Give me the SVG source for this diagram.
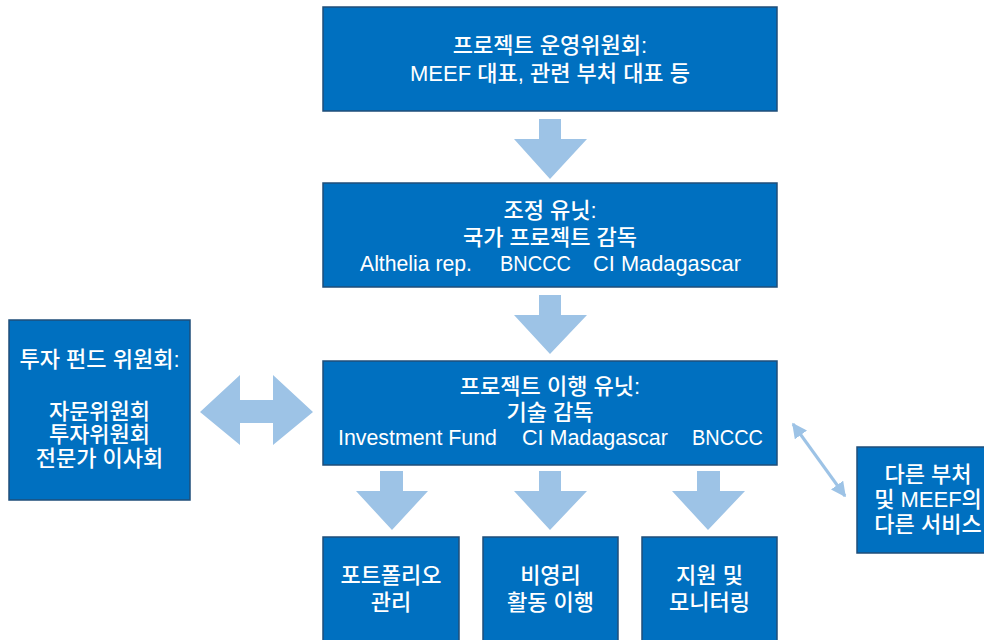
<svg xmlns="http://www.w3.org/2000/svg" width="984" height="640" viewBox="0 0 984 640">
<style>
.box{fill:#0070C0;stroke:#1F4E79;stroke-width:1.5}
.t{fill:#fff;font-family:"Liberation Sans","Noto Sans CJK KR",sans-serif;font-size:22px;font-weight:500;text-anchor:middle}
.s{text-anchor:start}
.ar{fill:#9DC3E6}
</style>
<defs>
<marker id="ah" viewBox="0 0 10 10" refX="9" refY="5" markerWidth="5" markerHeight="5" orient="auto-start-reverse">
<path d="M0,0 L10,5 L0,10 Z" fill="#9DC3E6"/>
</marker>
</defs>
<rect width="984" height="640" fill="#fff"/>
<g id="connectors">
<path class="ar" d="M539,119 H561 V139 H587 L550,179 L514,139 H539 Z"/>
<path class="ar" d="M539,295 H561 V315 H587 L550,354 L514,315 H539 Z"/>
<path class="ar" d="M380,471 H403 V491 H428 L392,530 L356,491 H380 Z"/>
<path class="ar" d="M539,471 H561 V491 H587 L550,530 L514,491 H539 Z"/>
<path class="ar" d="M697,471 H720 V491 H745 L708,530 L672,491 H697 Z"/>
<path class="ar" d="M200,412 L240,375 V400 H273 V375 L313,412 L273,445 V423 H240 V445 Z"/>
<line x1="793" y1="424" x2="845" y2="496" stroke="#9DC3E6" stroke-width="3" marker-start="url(#ah)" marker-end="url(#ah)"/>
</g>
<g id="steering">
<rect class="box" x="323" y="7" width="454" height="104"/>
<text class="t" x="550" y="53">프로젝트 운영위원회:</text>
<text class="t" x="550" y="81">MEEF 대표, 관련 부처 대표 등</text>
</g>
<g id="coordination">
<rect class="box" x="323" y="183" width="454" height="104"/>
<text class="t" x="550" y="218">조정 유닛:</text>
<text class="t" x="550" y="245">국가 프로젝트 감독</text>
<text class="t s" x="360" y="271" textLength="112" lengthAdjust="spacingAndGlyphs">Althelia rep.</text>
<text class="t s" x="500" y="271" textLength="71" lengthAdjust="spacingAndGlyphs">BNCCC</text>
<text class="t s" x="593" y="271" textLength="148" lengthAdjust="spacingAndGlyphs">CI Madagascar</text>
</g>
<g id="implementation">
<rect class="box" x="323" y="361" width="454" height="104"/>
<text class="t" x="550" y="394">프로젝트 이행 유닛:</text>
<text class="t" x="550" y="420">기술 감독</text>
<text class="t s" x="338" y="445" textLength="159" lengthAdjust="spacingAndGlyphs">Investment Fund</text>
<text class="t s" x="522" y="445" textLength="146" lengthAdjust="spacingAndGlyphs">CI Madagascar</text>
<text class="t s" x="692" y="445" textLength="71" lengthAdjust="spacingAndGlyphs">BNCCC</text>
</g>
<g id="fund-committee">
<rect class="box" x="9" y="320" width="181" height="180"/>
<text class="t" x="99.5" y="367">투자 펀드 위원회:</text>
<text class="t" x="99.5" y="419">자문위원회</text>
<text class="t" x="99.5" y="442">투자위원회</text>
<text class="t" x="99.5" y="466">전문가 이사회</text>
</g>
<g id="other-services">
<rect class="box" x="857" y="447" width="143" height="106"/>
<text class="t" x="928" y="482">다른 부처</text>
<text class="t" x="928" y="507">및 MEEF의</text>
<text class="t" x="928" y="532">다른 서비스</text>
</g>
<g id="portfolio">
<rect class="box" x="323" y="537" width="136" height="110"/>
<text class="t" x="391" y="583">포트폴리오</text>
<text class="t" x="391" y="610">관리</text>
</g>
<g id="nonprofit">
<rect class="box" x="483" y="537" width="135" height="110"/>
<text class="t" x="550.5" y="583">비영리</text>
<text class="t" x="550.5" y="610">활동 이행</text>
</g>
<g id="support">
<rect class="box" x="642" y="537" width="135" height="110"/>
<text class="t" x="709.5" y="583">지원 및</text>
<text class="t" x="709.5" y="610">모니터링</text>
</g>
</svg>
